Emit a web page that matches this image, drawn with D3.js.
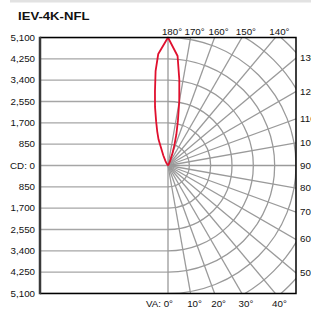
<!DOCTYPE html>
<html>
<head>
<meta charset="utf-8">
<script src="https://cdn.jsdelivr.net/npm/d3@7"></script>
<style>
  body { margin: 0; background: #fff; }
  svg { display: block; font-family: "Liberation Sans", Arial, sans-serif; }
</style>
</head>
<body>
<div id="chart"></div>
<script>
// photometric data: vertical angle (deg) and candela, two planes
var vaAngles = [180, 175, 172.5, 170, 167.5, 165, 162.5, 160, 155, 150, 145, 140];
var cdRight = [5100, 4380, 3450, 2580, 1820, 1290, 840, 520, 200, 60, 0, 0];   // drawn right of nadir line
var cdLeft = [5100, 4460, 3790, 2990, 2390, 1830, 1430, 1100, 440, 200, 80, 0]; // drawn left
var cdTicks = [5100, 4250, 3400, 2550, 1700, 850, 0, -850, -1700, -2550, -3400, -4250, -5100];
var ringValues = [850, 1700, 2550, 3400, 4250, 5100, 5950, 6800];
var gridAngles = [0, 10, 20, 30, 40, 50, 60, 70, 80, 90, 100, 110, 120, 130, 140, 150, 160, 170, 180];
var title = "IEV-4K-NFL";

var width = 311, height = 309;
var box = {left: 40, right: 296, top: 37.5, bottom: 293.5};
var cx = 168, cy = (box.top + box.bottom) / 2;

var svg = d3.select("#chart").append("svg")
    .attr("width", width)
    .attr("height", height);

// light band at the very top
svg.append("rect").attr("x", 10).attr("y", 0).attr("width", 301).attr("height", 2.5).attr("fill", "#e2e2e2");

function label(x, y, txt, anchor, size, sx, bold) {
    svg.append("text")
        .attr("transform", "translate(" + x + "," + y + ") scale(" + sx + ",1)")
        .attr("text-anchor", anchor)
        .attr("font-size", size + "px")
        .attr("font-weight", bold ? "bold" : "normal")
        .attr("fill", "#111")
        .text(txt);
}

label(18, 19.5, title, "start", 10.5, 1.25, true);

var y = d3.scaleLinear().domain([-5100, 5100]).range([box.bottom, box.top]);
var r = d3.scaleLinear().domain([0, 5100]).range([0, cy - box.top]);

svg.append("clipPath").attr("id", "clip")
    .append("rect")
    .attr("x", box.left).attr("y", box.top)
    .attr("width", box.right - box.left).attr("height", box.bottom - box.top);

var grid = svg.append("g").attr("clip-path", "url(#clip)");

// horizontal candela lines (left half)
grid.selectAll("line.h")
    .data(cdTicks)
    .enter().append("line")
    .attr("x1", box.left).attr("x2", cx)
    .attr("y1", function (d) { return y(d); })
    .attr("y2", function (d) { return y(d); })
    .attr("stroke", "#a6a6a6")
    .attr("stroke-width", 1.3);

// half rings on the right
var ringArc = d3.arc()
    .innerRadius(function (d) { return r(d); })
    .outerRadius(function (d) { return r(d); })
    .startAngle(0)
    .endAngle(Math.PI);
grid.append("g")
    .attr("transform", "translate(" + cx + "," + cy + ")")
    .selectAll("path")
    .data(ringValues)
    .enter().append("path")
    .attr("d", ringArc)
    .attr("fill", "none")
    .attr("stroke", "#9a9a9a")
    .attr("stroke-width", 1.3);

// radial lines
var far = r(9000);
grid.selectAll("line.rad")
    .data(gridAngles)
    .enter().append("line")
    .attr("x1", cx).attr("y1", cy)
    .attr("x2", function (d) { return cx + far * Math.sin(d * Math.PI / 180); })
    .attr("y2", function (d) { return cy + far * Math.cos(d * Math.PI / 180); })
    .attr("stroke", "#9a9a9a")
    .attr("stroke-width", 1.3);

// beam curve
var pts = [];
for (var i = vaAngles.length - 1; i >= 0; i--) {
    pts.push({a: vaAngles[i] * Math.PI / 180 - Math.PI, v: cdLeft[i]});
}
for (var j = 1; j < vaAngles.length; j++) {
    pts.push({a: Math.PI - vaAngles[j] * Math.PI / 180, v: cdRight[j]});
}
var beam = d3.lineRadial()
    .angle(function (d) { return d.a; })
    .radius(function (d) { return r(d.v); });
svg.append("path")
    .attr("transform", "translate(" + cx + "," + cy + ")")
    .attr("d", beam(pts))
    .attr("fill", "none")
    .attr("stroke", "#e0102e")
    .attr("stroke-width", 1.8)
    .attr("stroke-linejoin", "round");

// frame
svg.append("path")
    .attr("d", "M" + box.left + "," + box.top + "H" + box.right + "V" + box.bottom + "H" + box.left)
    .attr("fill", "none")
    .attr("stroke", "#000")
    .attr("stroke-width", 1.5);
svg.append("line")
    .attr("x1", box.left).attr("x2", box.left)
    .attr("y1", box.top - 0.75).attr("y2", box.bottom + 0.75)
    .attr("stroke", "#3a3a3a")
    .attr("stroke-width", 2.5);

// candela labels
cdTicks.forEach(function (d) {
    var t = d === 0 ? "CD: 0" : d3.format(",")(Math.abs(d));
    label(35, y(d) + 3, t, "end", 8.5, 1.15, false);
});

// angle labels where the rays leave the frame
var half = cy - box.top;
gridAngles.forEach(function (d) {
    var rad = d * Math.PI / 180;
    if (d >= 140) {
        var xt = cx + half * Math.tan(Math.PI - rad);
        label(xt + 4, 35, d + "°", "middle", 8.5, 1.15, false);
    } else if (d >= 50) {
        var yt = cy + (box.right - cx) * Math.cos(rad) / Math.sin(rad);
        label(300, yt + 3, d + "°", "start", 8.5, 1.15, false);
    } else if (d === 0) {
        label(173, 306.5, "VA: 0°", "end", 8.5, 1.15, false);
    } else {
        var xb = cx + half * Math.tan(rad);
        label(xb + 4, 306.5, d + "°", "middle", 8.5, 1.15, false);
    }
});
</script>
</body>
</html>
